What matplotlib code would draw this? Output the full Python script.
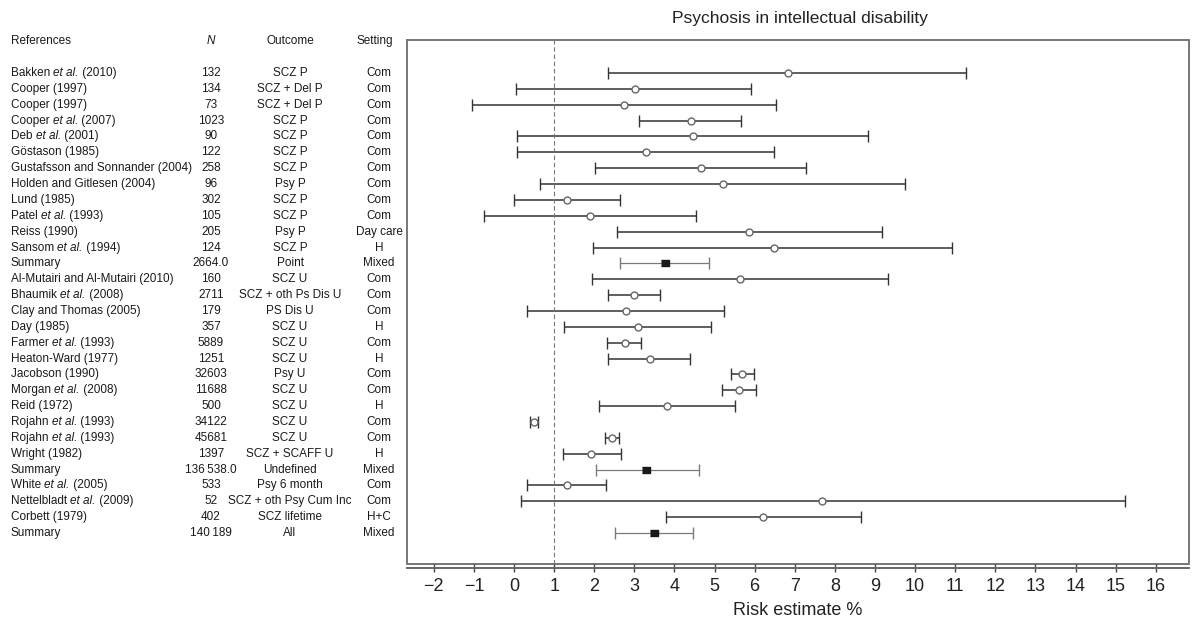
import matplotlib
matplotlib.use("Agg")
import matplotlib.pyplot as plt
from matplotlib import font_manager
from matplotlib.patches import Rectangle
from matplotlib.transforms import blended_transform_factory, offset_copy

# table columns
refs = ["Bakken et al. (2010)", "Cooper (1997)", "Cooper (1997)",
        "Cooper et al. (2007)", "Deb et al. (2001)", "Göstason (1985)",
        "Gustafsson and Sonnander (2004)", "Holden and Gitlesen (2004)", "Lund (1985)",
        "Patel et al. (1993)", "Reiss (1990)", "Sansom et al. (1994)",
        "Summary", "Al-Mutairi and Al-Mutairi (2010)", "Bhaumik et al. (2008)",
        "Clay and Thomas (2005)", "Day (1985)", "Farmer et al. (1993)",
        "Heaton-Ward (1977)", "Jacobson (1990)", "Morgan et al. (2008)", "Reid (1972)",
        "Rojahn et al. (1993)", "Rojahn et al. (1993)", "Wright (1982)",
        "Summary", "White et al. (2005)", "Nettelbladt et al. (2009)",
        "Corbett (1979)", "Summary"]
n_vals = ["132", "134", "73", "1023", "90", "122", "258", "96", "302", "105", "205", "124",
          "2664.0", "160", "2711", "179", "357", "5889", "1251", "32603", "11688", "500",
          "34122", "45681", "1397", "136\u2009538.0", "533", "52", "402", "140\u2009189"]
outcome = ["SCZ P", "SCZ + Del P", "SCZ + Del P", "SCZ P", "SCZ P", "SCZ P", "SCZ P",
           "Psy P", "SCZ P", "SCZ P", "Psy P", "SCZ P", "Point", "SCZ U",
           "SCZ + oth Ps Dis U", "PS Dis U", "SCZ U", "SCZ U", "SCZ U", "Psy U", "SCZ U",
           "SCZ U", "SCZ U", "SCZ U", "SCZ + SCAFF U", "Undefined", "Psy 6 month",
           "SCZ + oth Psy Cum Inc", "SCZ lifetime", "All"]
setting = ["Com", "Com", "Com", "Com", "Com", "Com", "Com", "Com", "Com", "Com", "Day care",
           "H", "Mixed", "Com", "Com", "Com", "H", "Com", "H", "Com", "Com", "H", "Com",
           "Com", "H", "Mixed", "Com", "Com", "H+C", "Mixed"]

# risk estimates (%) with interval limits
est = [6.82, 3.01, 2.74, 4.41, 4.46, 3.29, 4.66, 5.21, 1.33, 1.90, 5.85, 6.47, 3.77,
       5.63, 3.00, 2.80, 3.08, 2.76, 3.38, 5.69, 5.61, 3.82, 0.50, 2.44, 1.92, 3.30,
       1.32, 7.69, 6.22, 3.48]
lo = [2.35, 0.04, -1.05, 3.11, 0.07, 0.07, 2.01, 0.64, 0.01, -0.74, 2.57, 1.98, 2.64,
      1.95, 2.35, 0.32, 1.25, 2.33, 2.35, 5.41, 5.19, 2.11, 0.41, 2.26, 1.23, 2.04,
      0.32, 0.17, 3.79, 2.51]
hi = [11.26, 5.91, 6.54, 5.66, 8.82, 6.48, 7.29, 9.76, 2.64, 4.54, 9.17, 10.92, 4.86,
      9.32, 3.63, 5.23, 4.91, 3.17, 4.38, 5.98, 6.03, 5.51, 0.59, 2.61, 2.66, 4.61,
      2.29, 15.24, 8.66, 4.45]
x_ticks = list(range(-2, 17))

names = {f.name for f in font_manager.fontManager.ttflist}
tick_font = "Liberation Sans Narrow" if "Liberation Sans Narrow" in names else "Liberation Sans"
plt.rcParams["font.family"] = ["Liberation Sans", "DejaVu Sans"]

fig = plt.figure(figsize=(11.92, 6.22), dpi=100)
ax = fig.add_axes([0.3414, 0.0932, 0.6561, 0.8425])

rows = list(range(len(est)))
for i in rows:
    summary = refs[i] == "Summary"
    col = "#7a7a7a" if summary else "#333333"
    ax.errorbar(est[i], i, xerr=[[est[i] - lo[i]], [hi[i] - est[i]]], fmt="none",
                ecolor=col, elinewidth=0.9 if summary else 1.1,
                capsize=4.0 if summary else 4.6, capthick=1.0)
    if summary:
        ax.plot(est[i], i, marker=[(-1.7, -1), (1.7, -1), (1.7, 1), (-1.7, 1)],
                ms=6.4, color="#1a1a1a", ls="none")
    else:
        ax.plot(est[i], i, marker="o", ms=5, mfc="white", mec="#666666", mew=1.0,
                ls="none")

ax.axvline(1, color="#777777", lw=0.8, dashes=(4, 2.5))

ax.set_xlim(-2.67, 16.83)
ax.set_ylim(30.95, -2.08)
ax.set_yticks([])
ax.set_xticks(x_ticks)
for s in ["top", "left", "right"]:
    ax.spines[s].set_visible(False)
ax.spines["bottom"].set_position(("outward", 3))
ax.spines["bottom"].set_color("#666666")
ax.spines["bottom"].set_linewidth(1.4)
ax.add_patch(Rectangle((0, 0), 1, 1, transform=ax.transAxes, fill=False,
                       ec="#777777", lw=1.4, clip_on=False))
ax.tick_params(axis="x", direction="inout", length=6, width=1.0, color="#444444",
               labelsize=13, labelcolor="#222222", pad=4)
for lab in ax.get_xticklabels():
    lab.set_family(tick_font)
ax.set_xlabel("Risk estimate %", fontsize=13, color="#222222", family=tick_font,
              labelpad=5)
fig.text(0.671, 0.97, "Psychosis in intellectual disability", ha="center",
         va="center", fontsize=12.5, color="#222222")

# table on the left
tr = blended_transform_factory(fig.transFigure, ax.transData)
renderer = fig.canvas.get_renderer()
hdr_y = -2.02
kw = dict(fontsize=8.5, color="#1a1a1a", va="center", clip_on=False)
x_ref, x_n, x_out, x_set = 0.0092, 0.177, 0.2433, 0.318


def ref_label(y, label):
    # "et al." is set in italics, the rest upright
    if " et al." not in label:
        ax.text(x_ref, y, label, ha="left", transform=tr, **kw)
        return
    before, after = label.split(" et al.")
    dx = 0.0
    for txt, style in [(before + " ", "normal"), ("et al.", "italic"), (after, "normal")]:
        t = ax.text(x_ref, y, txt, ha="left", fontstyle=style,
                    transform=offset_copy(tr, fig=fig, x=dx, units="dots"), **kw)
        dx += t.get_window_extent(renderer).width


ax.text(x_ref, hdr_y, "References", ha="left", transform=tr, **kw)
ax.text(x_n, hdr_y, "N", ha="center", fontstyle="italic", transform=tr, **kw)
ax.text(x_out, hdr_y, "Outcome", ha="center", transform=tr, **kw)
ax.text(0.3145, hdr_y, "Setting", ha="center", transform=tr, **kw)
for i in rows:
    ref_label(i, refs[i])
    ax.text(x_n, i, n_vals[i], ha="center", transform=tr, **kw)
    ax.text(x_out, i, outcome[i], ha="center", transform=tr, **kw)
    ax.text(x_set, i, setting[i], ha="center", transform=tr, **kw)

fig.savefig("out.png", dpi=100)
